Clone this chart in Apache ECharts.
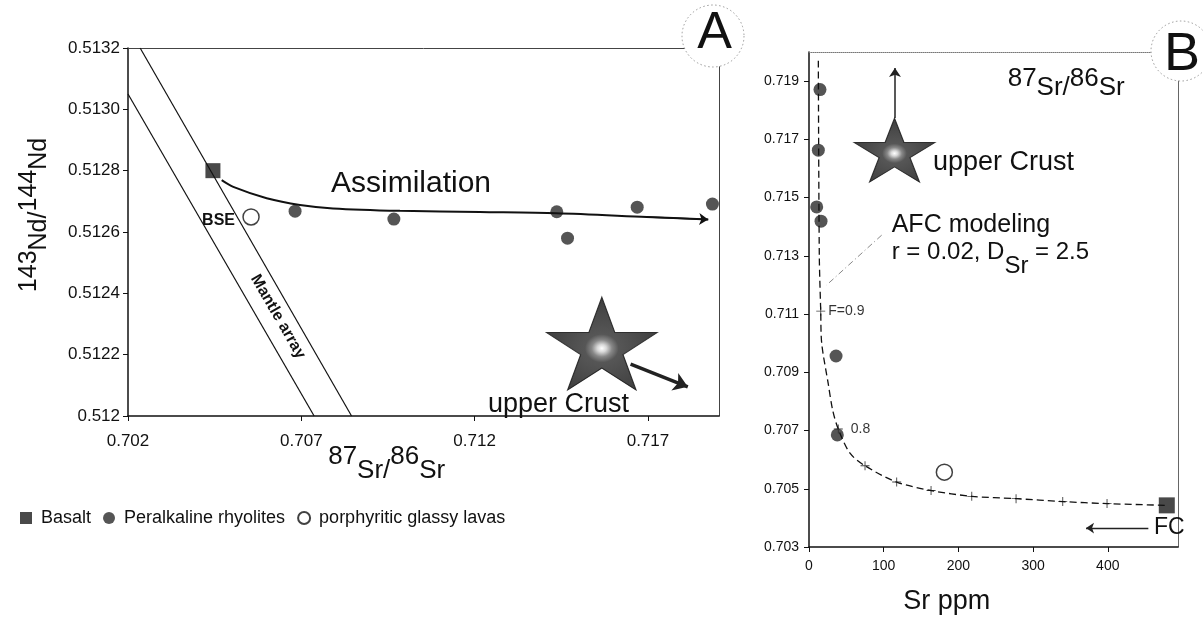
<!DOCTYPE html>
<html><head><meta charset="utf-8">
<script src="https://cdn.jsdelivr.net/npm/echarts@6/dist/echarts.min.js"></script>
<style>html,body{margin:0;padding:0;background:#fff}#c{width:1203px;height:617px}</style>
</head><body><div id="c"></div>
<script>
const FONT = '"Liberation Sans", Arial, Helvetica, sans-serif';

// ---------- Panel A : 143Nd/144Nd vs 87Sr/86Sr ----------
const xTicksA = [0.702, 0.707, 0.712, 0.717];
const yTicksA = [0.512, 0.5122, 0.5124, 0.5126, 0.5128, 0.5130, 0.5132];
const yTickLabelsA = ['0.512', '0.5122', '0.5124', '0.5126', '0.5128', '0.5130', '0.5132'];
const basaltSrA = [0.70445];
const basaltNdA = [0.5128];
const rhyoliteSrA = [0.70682, 0.70967, 0.71437, 0.71468, 0.71669, 0.71886];
const rhyoliteNdA = [0.512668, 0.512642, 0.512666, 0.51258, 0.512681, 0.512691];
const glassySrA = [0.70555];
const glassyNdA = [0.512649];
const assimSr = [0.704703, 0.705037, 0.706001, 0.706961, 0.707913, 0.709845, 0.712153, 0.714365, 0.716961, 0.718738];
const assimNd = [0.512769, 0.512747, 0.51271, 0.512688, 0.512677, 0.512669, 0.512665, 0.512661, 0.512649, 0.512641];
const mantleUpperSr = [0.70235, 0.70845];
const mantleUpperNd = [0.5132, 0.512];
const mantleLowerSr = [0.702, 0.70737];
const mantleLowerNd = [0.51305, 0.512];
const bseSr = 0.70459;
const bseNd = 0.512642;
const crustA = [0.71567, 0.512236];
const crustArrowA = [[0.7165, 0.512169], [0.71815, 0.512095]];

// ---------- Panel B : 87Sr/86Sr vs Sr ppm ----------
const xTicksB = [0, 100, 200, 300, 400];
const yTicksB = [0.703, 0.705, 0.707, 0.709, 0.711, 0.713, 0.715, 0.717, 0.719];
const basaltSrPpmB = [479];
const basaltRatioB = [0.70443];
const rhyoliteSrPpmB = [14.7, 12.5, 10.3, 16.1, 36.2, 37.9];
const rhyoliteRatioB = [0.71871, 0.71663, 0.71468, 0.71419, 0.70956, 0.70685];
const glassySrPpmB = [181.2];
const glassyRatioB = [0.70557];
const afcSrPpm = [12.5, 13.8, 15.7, 17.0, 25.8, 31.7, 39.2, 54.9, 75.0, 117.4, 163.4, 217.9, 277.2, 339.7, 399.0, 479];
const afcRatio = [0.7197, 0.7130, 0.7111, 0.7100, 0.7086, 0.7077, 0.70705, 0.70622, 0.70579, 0.70523, 0.70494, 0.70474, 0.70466, 0.70456, 0.70449, 0.70443];
const afcTickSrPpm = [15.7, 39.2, 75.0, 117.4, 163.4, 217.9, 277.2, 339.7, 399.0];
const afcTickRatio = [0.7111, 0.70705, 0.70579, 0.70523, 0.70494, 0.70474, 0.70466, 0.70456, 0.70449];
const afcTickLabels = ['F=0.9', '0.8', '', '', '', '', '', '', ''];
const crustB = [114.5, 0.71663];
const crustArrowB = [[115.1, 0.71773], [115.1, 0.71945]];
const leaderB = [[97.3, 0.71371], [23.7, 0.712]];
const fcArrowB = [[454.3, 0.70365], [370.9, 0.70365]];

const zip = (a, b) => a.map((v, i) => [v, b[i]]);

const STAR = 'path://M50,0 L61.2,34.5 L97.6,34.5 L68.2,55.9 L79.4,90.5 L50,69.1 L20.6,90.5 L31.8,55.9 L2.4,34.5 L38.8,34.5 Z';
const PLUS = 'path://M3.6,0h0.8v3.6h3.6v0.8h-3.6v3.6h-0.8v-3.6h-3.6v-0.8h3.6z';
const starFill = {
  type: 'radial', x: 0.5, y: 0.55, r: 0.5,
  colorStops: [
    {offset: 0, color: '#ffffff'}, {offset: 0.08, color: '#cfcfcf'},
    {offset: 0.18, color: '#6a6a6a'}, {offset: 0.3, color: '#2c2c2c'}, {offset: 1, color: '#111111'}
  ]
};

const mctx = document.createElement('canvas').getContext('2d');
function tw(t, size) { mctx.font = size + 'px ' + FONT; return mctx.measureText(t).width; }
function scripted(parts, size, shift, opt) {
  const total = parts.reduce((s, p) => s + tw(p[0], size), 0);
  let x = opt.align === 'center' ? -total / 2 : 0;
  const children = [];
  parts.forEach(p => {
    children.push({type: 'text', x: x, y: p[1] ? shift : 0,
      style: {text: p[0], font: size + 'px ' + FONT, fill: '#111', align: 'left', verticalAlign: 'middle'}});
    x += tw(p[0], size);
  });
  return {type: 'group', x: opt.x, y: opt.y, rotation: opt.rotation || 0, children, z: 50};
}
function txt(x, y, text, size) {
  return {type: 'text', x, y, z: 50,
    style: {text, font: size + 'px ' + FONT, fill: '#111', align: 'left', verticalAlign: 'middle'}};
}

const axisBase = (idx, min, max, ticks, labels, fs, margin) => ({
  gridIndex: idx, type: 'value', min, max,
  axisLine: {show: true, onZero: false, lineStyle: {color: '#111', width: 1.5}},
  axisTick: {show: true, customValues: ticks, length: 5, lineStyle: {color: '#111', width: 1}},
  axisLabel: {show: true, customValues: ticks, formatter: labels, fontSize: fs, fontFamily: FONT, color: '#111', margin},
  splitLine: {show: false}
});
const frameAxis = (idx, min, max, pos, color, type) => ({
  gridIndex: idx, type: 'value', min, max, position: pos,
  axisLine: {show: true, onZero: false, lineStyle: {color, width: 1, type}},
  axisTick: {show: false}, axisLabel: {show: false}, splitLine: {show: false}
});

const chart = echarts.init(document.getElementById('c'), null, {renderer: 'canvas'});
const option = {
  animation: false,
  backgroundColor: '#fff',
  grid: [
    {left: 128, top: 48, width: 591, height: 368},
    {left: 809, top: 52, width: 369, height: 495}
  ],
  xAxis: [
    axisBase(0, 0.702, 0.71905, xTicksA, v => v.toFixed(3), 17, 17),
    axisBase(1, 0, 494, xTicksB, v => String(Math.round(v)), 14, 12),
    frameAxis(0, 0.702, 0.71905, 'top', '#444', 'solid'),
    frameAxis(1, 0, 494, 'top', '#777', 'dotted')
  ],
  yAxis: [
    axisBase(0, 0.512, 0.5132, yTicksA, v => yTickLabelsA[yTicksA.findIndex(t => Math.abs(t - v) < 1e-7)] || v.toFixed(4), 17, 8),
    axisBase(1, 0.703, 0.720, yTicksB, v => v.toFixed(3), 14, 10),
    frameAxis(0, 0.512, 0.5132, 'right', '#444', 'solid'),
    frameAxis(1, 0.703, 0.720, 'right', '#666', 'solid')
  ],
  legend: {
    left: 15, top: 504, itemWidth: 12, itemHeight: 12, itemGap: 12,
    selectedMode: false,
    textStyle: {fontFamily: FONT, fontSize: 18, color: '#111', padding: [0, 0, 0, 4]},
    data: [
      {name: 'Basalt', icon: 'rect'},
      {name: 'Peralkaline rhyolites', icon: 'circle'},
      {name: 'porphyritic glassy lavas', icon: 'circle'}
    ]
  },
  series: [
    // ---- Panel A ----
    {type: 'line', name: 'mantle upper', xAxisIndex: 0, yAxisIndex: 0, silent: true,
     data: zip(mantleUpperSr, mantleUpperNd), symbol: 'none', lineStyle: {color: '#111', width: 1.2},
     markLine: {silent: true, symbol: 'none', label: {show: false},
       lineStyle: {color: '#777', type: [1.5, 2], width: 1},
       data: [{xAxis: bseSr}, {yAxis: bseNd}]}},
    {type: 'line', name: 'mantle lower', xAxisIndex: 0, yAxisIndex: 0, silent: true,
     data: zip(mantleLowerSr, mantleLowerNd), symbol: 'none', lineStyle: {color: '#111', width: 1.2}},
    {type: 'line', name: 'assimilation', xAxisIndex: 0, yAxisIndex: 0, silent: true,
     data: zip(assimSr, assimNd), smooth: 0.3, symbol: 'none',
     lineStyle: {color: '#111', width: 2},
     markLine: {silent: true, symbol: ['none', 'arrow'], symbolSize: 9, label: {show: false},
       lineStyle: {color: '#111', width: 1.5, type: 'solid'},
       data: [[{coord: [assimSr[8], assimNd[8]]}, {coord: [assimSr[9], assimNd[9]]}]]}},
    {type: 'scatter', name: 'crust A', xAxisIndex: 0, yAxisIndex: 0, silent: true,
     symbol: STAR, symbolSize: [111, 93], data: [crustA],
     itemStyle: {color: starFill, borderColor: '#111', borderWidth: 1},
     markLine: {silent: true, symbol: ['none', 'arrow'], symbolSize: 14, label: {show: false},
       lineStyle: {color: '#222', width: 3.5, type: 'solid'},
       data: [[{coord: crustArrowA[0]}, {coord: crustArrowA[1]}]]}},
    {type: 'scatter', name: 'Basalt', xAxisIndex: 0, yAxisIndex: 0, symbol: 'rect', symbolSize: 15,
     data: zip(basaltSrA, basaltNdA), itemStyle: {color: '#1c1c1c'}},
    {type: 'scatter', name: 'Peralkaline rhyolites', xAxisIndex: 0, yAxisIndex: 0, symbol: 'circle', symbolSize: 13,
     data: zip(rhyoliteSrA, rhyoliteNdA), itemStyle: {color: '#2b2b2b'}},
    {type: 'scatter', name: 'porphyritic glassy lavas', xAxisIndex: 0, yAxisIndex: 0, symbol: 'circle', symbolSize: 16,
     data: zip(glassySrA, glassyNdA), itemStyle: {color: '#ffffff', borderColor: '#111', borderWidth: 1.5}},
    // ---- Panel B ----
    {type: 'line', name: 'AFC model', xAxisIndex: 1, yAxisIndex: 1, silent: true,
     data: zip(afcSrPpm, afcRatio), smooth: 0.3, symbol: 'none',
     lineStyle: {color: '#111', width: 1.3, type: [7, 4]},
     markLine: {silent: true, label: {show: false},
       data: [
         [{coord: leaderB[0], symbol: 'none', lineStyle: {color: '#888', width: 1, type: [6, 3, 1, 3]}},
          {coord: leaderB[1], symbol: 'none'}],
         [{coord: fcArrowB[0], symbol: 'none', lineStyle: {color: '#222', width: 1.3, type: 'solid'}},
          {coord: fcArrowB[1], symbol: 'arrow', symbolSize: 8}]
       ]}},
    {type: 'scatter', name: 'AFC ticks', xAxisIndex: 1, yAxisIndex: 1, silent: true,
     symbol: PLUS, symbolSize: 9, itemStyle: {color: '#111'},
     data: afcTickSrPpm.map((x, i) => ({value: [x, afcTickRatio[i]],
       label: afcTickLabels[i] ? {show: true, formatter: afcTickLabels[i], position: 'right',
         distance: i === 0 ? 3 : 8, fontSize: 14, fontFamily: FONT, color: '#000'} : {show: false}}))},
    {type: 'scatter', name: 'crust B', xAxisIndex: 1, yAxisIndex: 1, silent: true,
     symbol: STAR, symbolSize: [81, 64], data: [crustB],
     itemStyle: {color: starFill, borderColor: '#111', borderWidth: 1},
     markLine: {silent: true, symbol: ['none', 'arrow'], symbolSize: 9, label: {show: false},
       lineStyle: {color: '#222', width: 1.5, type: 'solid'},
       data: [[{coord: crustArrowB[0]}, {coord: crustArrowB[1]}]]}},
    {type: 'scatter', name: 'Basalt', xAxisIndex: 1, yAxisIndex: 1, symbol: 'rect', symbolSize: 16,
     data: zip(basaltSrPpmB, basaltRatioB), itemStyle: {color: '#1c1c1c'}},
    {type: 'scatter', name: 'Peralkaline rhyolites', xAxisIndex: 1, yAxisIndex: 1, symbol: 'circle', symbolSize: 13,
     data: zip(rhyoliteSrPpmB, rhyoliteRatioB), itemStyle: {color: '#2b2b2b'}},
    {type: 'scatter', name: 'porphyritic glassy lavas', xAxisIndex: 1, yAxisIndex: 1, symbol: 'circle', symbolSize: 16,
     data: zip(glassySrPpmB, glassyRatioB), itemStyle: {color: '#ffffff', borderColor: '#111', borderWidth: 1.5}}
  ],
  graphic: [
    {type: 'circle', z: 40, shape: {cx: 713, cy: 36, r: 31}, style: {fill: '#fff', stroke: '#999', lineWidth: 1, lineDash: [1.5, 2.5]}},
    {type: 'text', z: 41, x: 714.5, y: 34, style: {text: 'A', font: '52px ' + FONT, fill: '#111', align: 'center', verticalAlign: 'middle'}},
    {type: 'circle', z: 40, shape: {cx: 1181, cy: 51, r: 30}, style: {fill: '#fff', stroke: '#999', lineWidth: 1, lineDash: [1.5, 2.5]}},
    {type: 'text', z: 41, x: 1182, y: 55, style: {text: 'B', font: '54px ' + FONT, fill: '#111', align: 'center', verticalAlign: 'middle'}},
    txt(331, 183.5, 'Assimilation', 30),
    {type: 'text', z: 50, x: 235, y: 221, style: {text: 'BSE', font: 'bold 16px ' + FONT, fill: '#111', align: 'right', verticalAlign: 'middle'}},
    {type: 'text', z: 50, x: 278, y: 316.7, rotation: -Math.PI / 3,
     style: {text: 'Mantle array', font: 'bold 16px ' + FONT, fill: '#111', align: 'center', verticalAlign: 'middle'}},
    txt(488, 405, 'upper Crust', 27),
    scripted([['87', 0], ['Sr/', 1], ['86', 0], ['Sr', 1]], 26, 14, {x: 386.7, y: 457, align: 'center'}),
    scripted([['143', 0], ['Nd/', 1], ['144', 0], ['Nd', 1]], 25, 10, {x: 29.5, y: 215, align: 'center', rotation: Math.PI / 2}),
    scripted([['87', 0], ['Sr/', 1], ['86', 0], ['Sr', 1]], 26, 9, {x: 1007.7, y: 79, align: 'left'}),
    txt(933, 162.7, 'upper Crust', 27),
    txt(891.7, 225, 'AFC modeling', 25),
    scripted([['r = 0.02, D', 0], ['Sr', 1], [' = 2.5', 0]], 24, 14, {x: 891.7, y: 252.5, align: 'left'}),
    txt(1154, 528, 'FC', 23),
    {type: 'text', z: 50, x: 946.7, y: 601.7, style: {text: 'Sr ppm', font: '27px ' + FONT, fill: '#111', align: 'center', verticalAlign: 'middle'}}
  ]
};
chart.setOption(option);
</script>
</body></html>
